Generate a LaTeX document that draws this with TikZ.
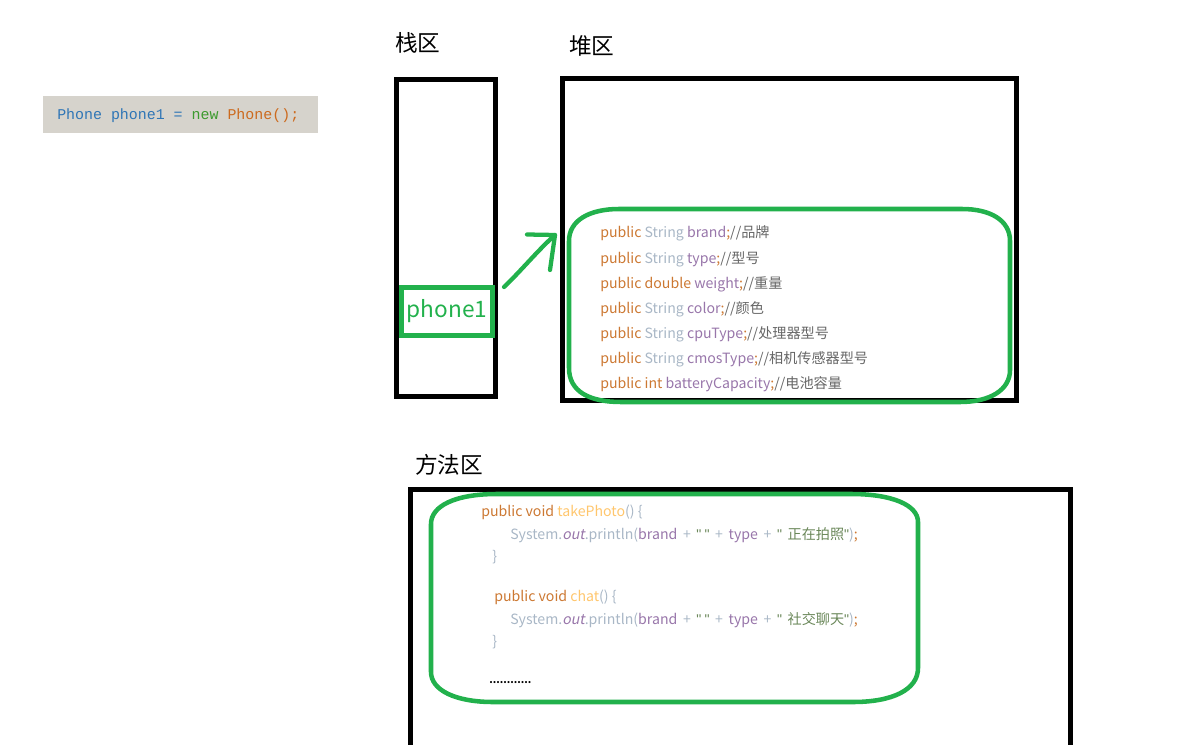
\documentclass[tikz,border=0pt]{standalone}
\usepackage{fontspec}
\setmainfont{Noto Sans CJK SC}
\newfontfamily\cjkit[FakeSlant=0.2]{Noto Sans CJK SC}
\newfontfamily\qfont{Liberation Sans}
\newfontfamily\snipmono{Liberation Mono}
\definecolor{paintgreen}{HTML}{22B14C}
\definecolor{kwcol}{HTML}{CC7832}
\definecolor{typecol}{HTML}{A9B7C6}
\definecolor{fieldcol}{HTML}{9876AA}
\definecolor{cmtcol}{HTML}{666666}
\definecolor{strcol}{HTML}{6A8759}
\definecolor{methcol}{HTML}{FFC66D}
\definecolor{plaincol}{HTML}{A9B7C6}
\definecolor{snipbg}{HTML}{D6D3CC}
\definecolor{snipblue}{HTML}{2E75B6}
\definecolor{snipgreen}{HTML}{3C9A2E}
\definecolor{sniporange}{HTML}{CC6A1E}
\newcommand\ckw[1]{\textcolor{kwcol}{#1}}
\newcommand\ctype[1]{\textcolor{typecol}{#1}}
\newcommand\cfield[1]{\textcolor{fieldcol}{#1}}
\newcommand\ccomment[1]{\textcolor{cmtcol}{#1}}
\newcommand\cstr[1]{\textcolor{strcol}{#1}}
\newcommand\cmeth[1]{\textcolor{methcol}{#1}}
\newcommand\cplain[1]{\textcolor{plaincol}{#1}}
\newcommand\sq{{\qfont"}}
\newcommand\csp{\hspace{4.2pt}}
\tikzset{
  frame/.style={draw=black, line width=3.75pt},
  oval/.style={draw=paintgreen, line width=3.4pt},
  area/.style={font=\fontsize{17}{20}\selectfont, inner sep=0pt, anchor=base west},
  codeline/.style={font=\fontsize{10.6}{12}\selectfont, inner sep=0pt, anchor=base west},
}
\begin{document}
\begin{tikzpicture}[x=0.75pt, y=-0.75pt]
\useasboundingbox (0,0) rectangle (1177,745);
% snippet
\node[fill=snipbg, minimum width=206.25pt, minimum height=27.75pt, inner sep=0pt] (snip) at (180.5,114.5) {};
\node[font=\snipmono\fontsize{11.2}{13}\selectfont, inner sep=0pt, anchor=base west] (sniptext) at (57,119.5)
  {\textcolor{snipblue}{Phone phone1 =} \textcolor{snipgreen}{new} \textcolor{sniporange}{Phone();}};
% area labels
\node[area] (stacklbl) at (395,52) {栈区};
\node[area] (heaplbl) at (569,55) {堆区};
\node[area] (methlbl) at (415,473) {方法区};
% frames
\draw[frame] (396.5,79.5) rectangle (495.5,396);
\draw[frame] (562.5,78.5) rectangle (1016,400);
\draw[frame] (410,745) -- (410,489) -- (1070,489) -- (1070,745);
% heap oval
\draw[oval] (619,209) -- (962,209) .. controls (990,209) and (1010,220) .. (1010,241) -- (1010,370) .. controls (1010,390) and (990,402) .. (960,402) -- (621,402) .. controls (590,402) and (569,392) .. (569,368) -- (569,241) .. controls (569,220) and (590,209) .. (619,209) -- cycle;
% method oval
\draw[oval] (497,494) -- (851,494) .. controls (892,494) and (918,505) .. (918,522) -- (918,668) .. controls (918,690) and (892,702) .. (853,702) -- (493,702) .. controls (455,702) and (431,690) .. (431,672) -- (431,524) .. controls (431,506) and (455,494) .. (497,494) -- cycle;
% phone1 box
\node[draw=paintgreen, line width=3.4pt, minimum width=68pt, minimum height=36pt, inner sep=0pt,
      text=paintgreen, font=\fontsize{17}{20}\selectfont] (phone1) at (447,311.5) {phone1};
% arrow
\coordinate (arrtail) at (504,287);
\coordinate (arrtip) at (555,235);
\coordinate (headA) at (527,234.5);
\coordinate (headB) at (550,270);
\draw[paintgreen, line width=3.2pt, line cap=round, line join=round] (arrtail) .. controls (520,272) and (538,250) .. (arrtip);
\draw[paintgreen, line width=3.2pt, line cap=round, line join=round] (headA) -- (arrtip) -- (headB);
% heap fields
\node[codeline] (f1) at (600,238) {\ckw{public} \ctype{String} \cfield{brand}\ckw{;}\ccomment{//品牌}};
\node[codeline] (f2) at (600,263) {\ckw{public} \ctype{String} \cfield{type}\ckw{;}\ccomment{//型号}};
\node[codeline] (f3) at (600,288) {\ckw{public} \ckw{double} \cfield{weight}\ckw{;}\ccomment{//重量}};
\node[codeline] (f4) at (600,313) {\ckw{public} \ctype{String} \cfield{color}\ckw{;}\ccomment{//颜色}};
\node[codeline] (f5) at (600,338) {\ckw{public} \ctype{String} \cfield{cpuType}\ckw{;}\ccomment{//处理器型号}};
\node[codeline] (f6) at (600,363) {\ckw{public} \ctype{String} \cfield{cmosType}\ckw{;}\ccomment{//相机传感器型号}};
\node[codeline] (f7) at (600,388) {\ckw{public} \ckw{int} \cfield{batteryCapacity}\ckw{;}\ccomment{//电池容量}};
% methods
\node[codeline] (m1) at (481,516) {\ckw{public void} \cmeth{takePhoto}\cplain{() \{}};
\node[codeline] (m2) at (510,539) {\cplain{System.}\cfield{\cjkit out}\cplain{.println(}\cfield{brand}\csp\cplain{+}\csp\cstr{\sq\ \sq}\csp\cplain{+}\csp\cfield{type}\csp\cplain{+}\csp\cstr{\sq\csp 正在拍照\sq}\cplain{)}\ckw{;}};
\node[codeline] (m3) at (492,561) {\cplain{\}}};
\node[codeline] (m4) at (494,601) {\ckw{public void} \cmeth{chat}\cplain{() \{}};
\node[codeline] (m5) at (510,624) {\cplain{System.}\cfield{\cjkit out}\cplain{.println(}\cfield{brand}\csp\cplain{+}\csp\cstr{\sq\ \sq}\csp\cplain{+}\csp\cfield{type}\csp\cplain{+}\csp\cstr{\sq\csp 社交聊天\sq}\cplain{)}\ckw{;}};
\node[codeline] (m6) at (492,646) {\cplain{\}}};
\node[codeline, font=\bfseries\fontsize{7.5}{9}\selectfont] (m7) at (489,683) {............};
\end{tikzpicture}
\end{document}
